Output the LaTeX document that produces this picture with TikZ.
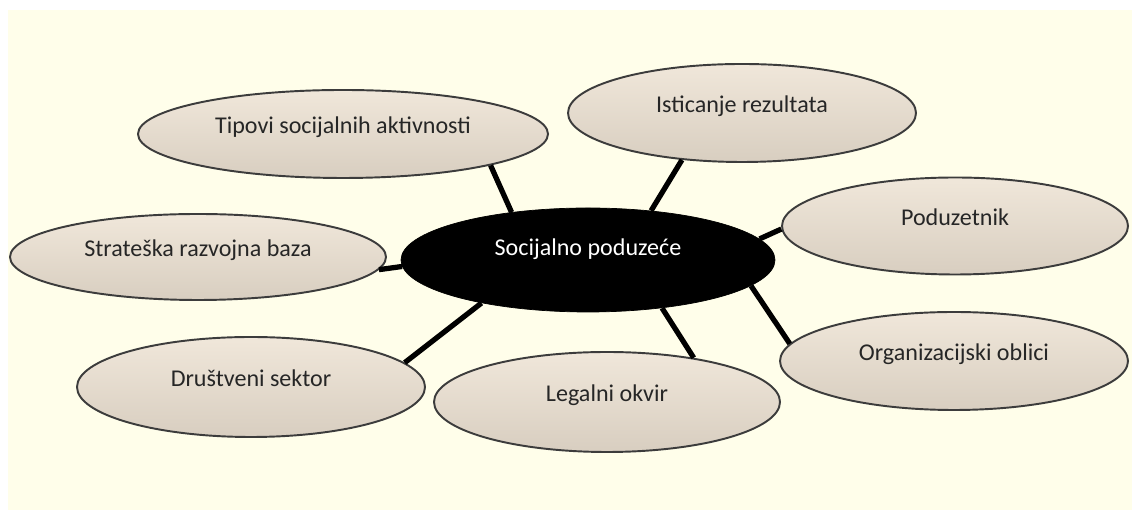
\documentclass[tikz,border=0pt]{standalone}
\usepackage{fontspec}
\setmainfont{Carlito}
\usetikzlibrary{shapes.geometric}
\definecolor{cream}{HTML}{FFFEEA}
\definecolor{bubtop}{HTML}{F0E7DA}
\definecolor{bubbot}{HTML}{D8CEC0}
\definecolor{rim}{HTML}{3C3C3C}
\begin{document}
\begin{tikzpicture}
    \tikzstyle{bub} = [shape=ellipse, draw=rim, line width=1.1pt, top color=bubtop, bottom color=bubbot, inner sep=0pt, text height=8pt, text depth=9pt, font=\fontsize{13.7}{15}\selectfont, text=black!85]
    \tikzstyle{hub} = [shape=ellipse, draw=black, fill=black, inner sep=0pt, text height=8pt, text depth=13pt, font=\fontsize{13.7}{15}\selectfont, text=white]
    \tikzstyle{conn} = [line width=3pt, black]
    \useasboundingbox (0,0) rectangle (22.64,10.2);
    \fill[cream] (0.16,0) rectangle (22.64,10.0);

    \node (hub) [hub, minimum width=7.48cm, minimum height=2.08cm] at (11.76,5.0) {Socijalno poduzeće};
    \node (tip) [bub, minimum width=8.2cm,  minimum height=1.76cm] at (6.86,7.52)  {Tipovi socijalnih aktivnosti};
    \node (ist) [bub, minimum width=6.96cm, minimum height=1.96cm] at (14.84,7.94) {Isticanje rezultata};
    \node (pod) [bub, minimum width=6.92cm, minimum height=1.94cm] at (19.1,5.68)  {Poduzetnik};
    \node (str) [bub, minimum width=7.52cm, minimum height=1.72cm] at (3.96,5.06)  {Strateška razvojna baza};
    \node (org) [bub, minimum width=6.96cm, minimum height=1.96cm] at (19.08,2.98) {Organizacijski oblici};
    \node (dru) [bub, minimum width=6.96cm, minimum height=2.0cm]  at (5.02,2.46)  {Društveni sektor};
    \node (leg) [bub, minimum width=6.92cm, minimum height=2.0cm]  at (12.14,2.16) {Legalni okvir};

    % spokes
    \draw [conn] (hub.148) -- (tip.-12);
    \draw [conn] (hub.38)  -- (ist.-142);
    \draw [conn] (hub.7)   -- (pod.181);
    \draw [conn] (hub.182) -- (str.-4);
    \draw [conn] (hub.-9)  -- (org.174);
    \draw [conn] (hub.-33) -- (leg.27);
    \draw [conn] (hub.202) -- (dru.9);
\end{tikzpicture}
\end{document}
